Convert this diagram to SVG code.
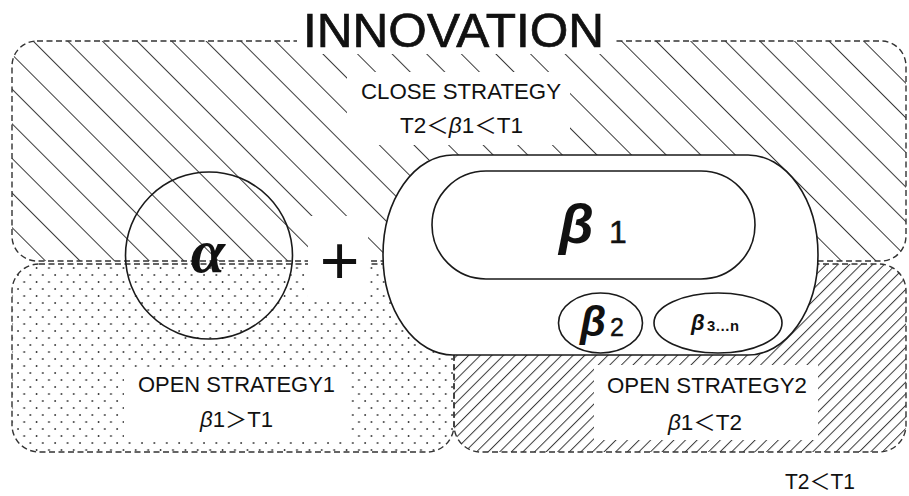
<svg xmlns="http://www.w3.org/2000/svg" width="909" height="496" viewBox="0 0 909 496">
<style>
 .lbl{font-family:"Liberation Sans","Noto Sans CJK JP",sans-serif;fill:#111;}
 .region{stroke:#333;stroke-width:1.4;stroke-dasharray:6 3.5;}
 .ko{fill:#fff;}
 .shape{fill:#fff;stroke:#1a1a1a;stroke-width:1.6;}
 .beta{font-family:"Liberation Sans","DejaVu Sans",sans-serif;font-weight:bold;font-style:italic;fill:#111;}
 .num{font-family:"Liberation Sans","DejaVu Sans",sans-serif;fill:#111;}
</style>
<defs>
 <pattern id="hatchA" patternUnits="userSpaceOnUse" width="24.47" height="20" patternTransform="translate(26,0) rotate(-45)">
  <rect x="0" y="0" width="1" height="20" fill="#3a3a3a"/>
 </pattern>
 <pattern id="hatchB" patternUnits="userSpaceOnUse" width="8.2" height="20" patternTransform="rotate(45)">
  <rect x="0" y="0" width="1" height="20" fill="#3a3a3a"/>
 </pattern>
 <pattern id="dots" patternUnits="userSpaceOnUse" x="16" y="273" width="12.4" height="14">
  <circle cx="2" cy="2" r="0.95" fill="#333"/>
  <circle cx="8.2" cy="9" r="0.95" fill="#333"/>
 </pattern>
</defs>
<rect x="0" y="0" width="909" height="496" fill="#fff"/>

<g id="close-strategy">
 <rect class="region" x="12" y="41" width="894" height="220" rx="25" fill="url(#hatchA)"/>
</g>
<g id="open-strategy1">
 <rect class="region" x="12" y="264" width="442" height="188" rx="27" fill="url(#dots)"/>
</g>
<g id="open-strategy2">
 <rect class="region" x="454" y="264" width="452" height="188" rx="27" fill="url(#hatchB)"/>
</g>

<g id="knockouts">
 <rect class="ko" x="297" y="0" width="318" height="54"/>
 <rect class="ko" x="347" y="72" width="223" height="73"/>
 <rect class="ko" x="308" y="216" width="60" height="82"/>
 <rect class="ko" x="124" y="368" width="226" height="70"/>
 <rect class="ko" x="594" y="365" width="224" height="75"/>
</g>

<g id="connectors"></g>

<g id="title">
 <text class="lbl" x="453.5" y="47" font-size="49" text-anchor="middle" textLength="301" lengthAdjust="spacingAndGlyphs" stroke="#111" stroke-width="0.7">INNOVATION</text>
</g>

<g id="close-strategy-label">
 <text class="lbl" x="461" y="99" font-size="22" text-anchor="middle" textLength="200" lengthAdjust="spacingAndGlyphs">CLOSE STRATEGY</text>
 <text class="lbl" x="461.5" y="133" font-size="22" text-anchor="middle" textLength="123" lengthAdjust="spacingAndGlyphs">T2＜<tspan font-style="italic">β</tspan>1＜T1</text>
</g>

<g id="open-strategy1-label">
 <text class="lbl" x="236.5" y="392" font-size="22" text-anchor="middle" textLength="197" lengthAdjust="spacingAndGlyphs">OPEN STRATEGY1</text>
 <text class="lbl" x="236.5" y="427" font-size="22" text-anchor="middle" textLength="73" lengthAdjust="spacingAndGlyphs"><tspan font-style="italic">β</tspan>1＞T1</text>
</g>

<g id="open-strategy2-label">
 <text class="lbl" x="707" y="393" font-size="22" text-anchor="middle" textLength="200" lengthAdjust="spacingAndGlyphs">OPEN STRATEGY2</text>
 <text class="lbl" x="705" y="430" font-size="22" text-anchor="middle" textLength="74" lengthAdjust="spacingAndGlyphs"><tspan font-style="italic">β</tspan>1＜T2</text>
</g>

<g id="alpha">
 <circle cx="209" cy="255.5" r="83.5" fill="none" stroke="#1a1a1a" stroke-width="1.6"/>
 <text x="208" y="272" font-family="'Liberation Serif','DejaVu Serif',serif" font-weight="bold" font-style="italic" font-size="62" text-anchor="middle" fill="#111">α</text>
</g>

<g id="plus">
 <text class="lbl" x="339.5" y="284" font-size="68" text-anchor="middle">+</text>
</g>

<g id="beta-group">
 <path class="shape" d="M453,155 H748 A70,100 0 0 1 748,355 H453 A70,100 0 0 1 453,155 Z"/>
</g>

<g id="beta1">
 <rect class="shape" x="432" y="171" width="323" height="108" rx="54" ry="54"/>
 <text class="beta" x="559" y="243" font-size="56">β</text>
 <text class="num" x="609" y="243" font-size="32" stroke="#111" stroke-width="0.5">1</text>
</g>

<g id="beta2">
 <ellipse class="shape" cx="600.5" cy="323" rx="42" ry="30"/>
 <text class="beta" x="580" y="336" font-size="42">β</text>
 <text class="num" x="610" y="336" font-size="25" stroke="#111" stroke-width="0.4">2</text>
</g>

<g id="beta3n">
 <ellipse class="shape" cx="718" cy="323" rx="64" ry="30"/>
 <text class="beta" x="691" y="330" font-size="22">β</text>
 <text class="num" x="707" y="331" font-size="14" textLength="32" lengthAdjust="spacingAndGlyphs" font-weight="bold">3…n</text>
</g>

<g id="threshold-note">
 <text class="lbl" x="820" y="489" font-size="22" text-anchor="middle" textLength="70" lengthAdjust="spacingAndGlyphs">T2＜T1</text>
</g>
</svg>
